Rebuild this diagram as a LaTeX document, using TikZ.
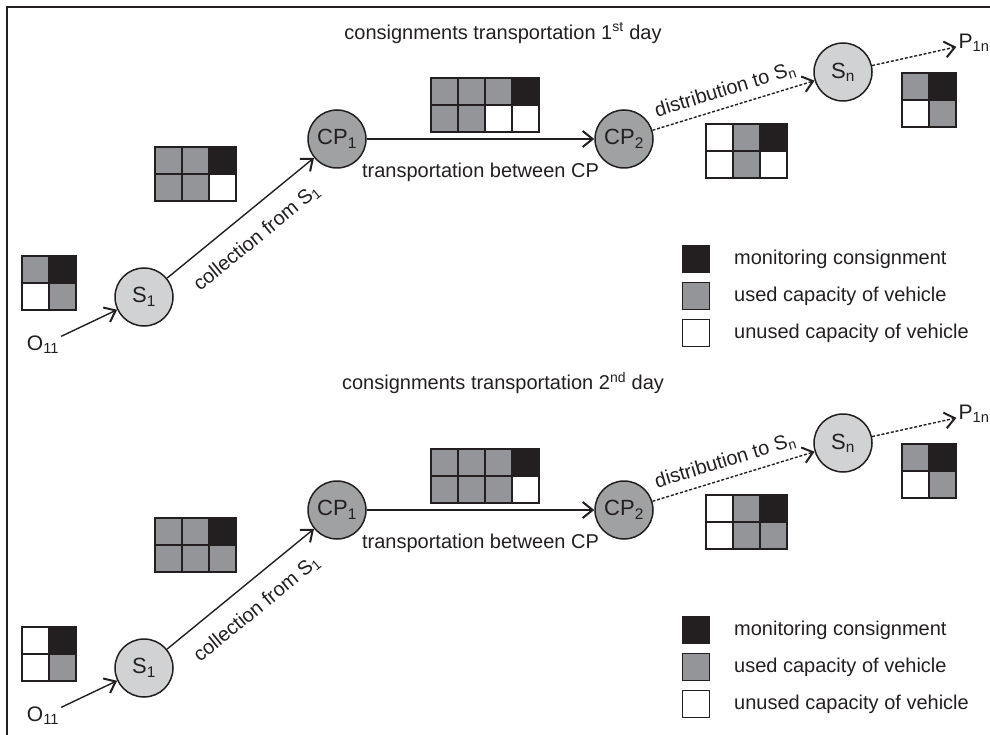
\documentclass[tikz,border=0pt]{standalone}
\usepackage{fontspec}
\setmainfont{Liberation Sans}
\usetikzlibrary{arrows.meta}
\definecolor{cg}{HTML}{939598}
\definecolor{ck}{HTML}{231F20}
\definecolor{cw}{HTML}{FFFFFF}
\definecolor{clight}{HTML}{D1D2D4}
\definecolor{cdark}{HTML}{A0A1A3}
\definecolor{cline}{HTML}{231F20}
\tikzset{
  every node/.style={font=\fontsize{20}{24}\selectfont, text=cline},
  stop/.style={circle, draw=cline, line width=1.5pt, minimum size=58pt, inner sep=0pt, font=\fontsize{22}{24}\selectfont},
  lightstop/.style={stop, fill=clight},
  darkstop/.style={stop, fill=cdark},
  arr/.style={draw=cline, line width=1.4pt, -{Straight Barb[length=10pt,width=16pt,line width=2pt]}},
  dotarr/.style={arr, dash pattern=on 3pt off 1.8pt},
  cell/.style={draw=cline, line width=1.6pt},
  legendbox/.style={draw=cline, line width=1.6pt, minimum size=27pt, inner sep=0pt},
  legendtext/.style={anchor=west, inner sep=0pt},
  endlabel/.style={inner sep=2pt, font=\fontsize{21}{24}\selectfont}
}
\newcommand\cgrid[3]{\foreach \gc/\gr/\gk in {#3}{\draw[cell, fill=\gk] ({#1+27*\gc},{#2+27*\gr}) rectangle ++(27,27);}}
\begin{document}
\begin{tikzpicture}[x=1pt,y=-1pt]
\useasboundingbox (0,0) rectangle (990,735);
\draw[draw=cline, line width=1.5pt] (7,735) -- (7,7) -- (990,7);

% ---------- day 1 ----------
\node (t1) at (503,33) {consignments transportation 1\textsuperscript{st} day};
\node[lightstop] (s1a) at (144,297) {S\textsubscript{1}};
\node[darkstop] (cp1a) at (337,139) {CP\textsubscript{1}};
\node[darkstop] (cp2a) at (624,139) {CP\textsubscript{2}};
\node[lightstop] (sna) at (843,72) {S\textsubscript{n}};
\node[endlabel] (oa) at (43,345) {O\textsubscript{11}};
\node[endlabel] (pa) at (974,43) {P\textsubscript{1n}};

\draw[arr] (oa) -- (s1a);
\draw[arr] (s1a) -- node[sloped, below=13pt, pos=0.5] (ca) {collection from S\textsubscript{1}} (cp1a);
\draw[arr] (cp1a) -- node[below=20pt] (ba) {transportation between CP} (cp2a);
\draw[dotarr] (cp2a) -- node[sloped, above=4pt, pos=0.48] (da) {distribution to S\textsubscript{n}} (sna);
\draw[dotarr] (sna) -- (pa);

\cgrid{22}{256}{0/0/cg,1/0/ck,0/1/cw,1/1/cg}
\cgrid{155}{147}{0/0/cg,1/0/cg,2/0/ck,0/1/cg,1/1/cg,2/1/cw}
\cgrid{431}{78}{0/0/cg,1/0/cg,2/0/cg,3/0/ck,0/1/cg,1/1/cg,2/1/cw,3/1/cw}
\cgrid{706}{124}{0/0/cw,1/0/cg,2/0/ck,0/1/cw,1/1/cg,2/1/cw}
\cgrid{902}{73}{0/0/cg,1/0/ck,0/1/cw,1/1/cg}

\node[legendbox, fill=ck] (lka) at (696,259) {};
\node[legendbox, fill=cg] (lga) at (696,296) {};
\node[legendbox, fill=cw] (lwa) at (696,333) {};
\node[legendtext] (tka) at (734,259) {monitoring consignment};
\node[legendtext] (tga) at (734,296) {used capacity of vehicle};
\node[legendtext] (twa) at (734,333) {unused capacity of vehicle};

% ---------- day 2 ----------
\node (t2) at (503,383) {consignments transportation 2\textsuperscript{nd} day};
\node[lightstop] (s1b) at (144,668) {S\textsubscript{1}};
\node[darkstop] (cp1b) at (337,510) {CP\textsubscript{1}};
\node[darkstop] (cp2b) at (624,510) {CP\textsubscript{2}};
\node[lightstop] (snb) at (843,443) {S\textsubscript{n}};
\node[endlabel] (ob) at (43,716) {O\textsubscript{11}};
\node[endlabel] (pb) at (974,414) {P\textsubscript{1n}};

\draw[arr] (ob) -- (s1b);
\draw[arr] (s1b) -- node[sloped, below=13pt, pos=0.5] (cb) {collection from S\textsubscript{1}} (cp1b);
\draw[arr] (cp1b) -- node[below=20pt] (bb) {transportation between CP} (cp2b);
\draw[dotarr] (cp2b) -- node[sloped, above=4pt, pos=0.48] (db) {distribution to S\textsubscript{n}} (snb);
\draw[dotarr] (snb) -- (pb);

\cgrid{22}{627}{0/0/cw,1/0/ck,0/1/cw,1/1/cg}
\cgrid{155}{518}{0/0/cg,1/0/cg,2/0/ck,0/1/cg,1/1/cg,2/1/cg}
\cgrid{431}{449}{0/0/cg,1/0/cg,2/0/cg,3/0/ck,0/1/cg,1/1/cg,2/1/cg,3/1/cw}
\cgrid{706}{495}{0/0/cw,1/0/cg,2/0/ck,0/1/cw,1/1/cg,2/1/cg}
\cgrid{902}{444}{0/0/cg,1/0/ck,0/1/cw,1/1/cg}

\node[legendbox, fill=ck] (lkb) at (696,630) {};
\node[legendbox, fill=cg] (lgb) at (696,667) {};
\node[legendbox, fill=cw] (lwb) at (696,704) {};
\node[legendtext] (tkb) at (734,630) {monitoring consignment};
\node[legendtext] (tgb) at (734,667) {used capacity of vehicle};
\node[legendtext] (twb) at (734,704) {unused capacity of vehicle};
\end{tikzpicture}
\end{document}
